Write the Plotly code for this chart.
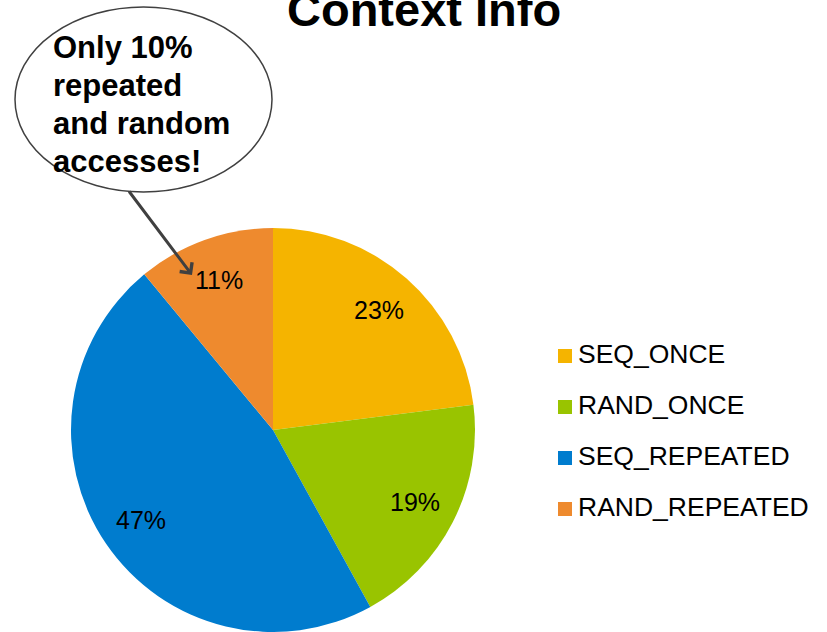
import math
import plotly.graph_objects as go

categories = ["SEQ_ONCE", "RAND_ONCE", "SEQ_REPEATED", "RAND_REPEATED"]
values = [23, 19, 47, 11]
colors = ["#F5B400", "#99C400", "#007CCE", "#EE8A2E"]
title_text = "Context Info"
callout_lines = ["Only 10%", "repeated", "and random", "accesses!"]

W, H = 827, 632
FONT = "Liberation Sans, Arial, sans-serif"

fig = go.Figure()

# pie (center ~ (273,430) px, radius ~202 px)
cx, cy, r = 273, 430, 202
fig.add_trace(go.Pie(
    labels=categories, values=values, sort=False, direction="clockwise", rotation=0,
    marker=dict(colors=colors, line=dict(width=0)),
    textinfo="none",
    domain=dict(x=[(cx - r) / W, (cx + r) / W], y=[(H - cy - r) / H, (H - cy + r) / H]),
    showlegend=False, hoverinfo="label+percent",
))

# percentage labels placed at ~0.79 of radius at each slice's mid angle
total = sum(values)
cum = 0.0
for v in values:
    mid = (cum + v / 2) / total * 2 * math.pi
    cum += v
    rl = 0.79 * r
    fig.add_annotation(text=f"{round(100 * v / total)}%", xref="x", yref="y",
                       x=cx + rl * math.sin(mid), y=cy - rl * math.cos(mid),
                       showarrow=False, xanchor="center", yanchor="middle",
                       font=dict(family=FONT, size=25, color="black"))

# legend drawn on a pixel-scaled hidden axis
leg_x, leg_tx, leg_y0, leg_dy = 565, 578, 356, 51
leg_y = [leg_y0 + i * leg_dy for i in range(len(categories))]
fig.add_trace(go.Scatter(
    x=[leg_x] * len(categories), y=leg_y, mode="markers",
    marker=dict(symbol="square", size=14, color=colors, line=dict(width=0)),
    showlegend=False, hoverinfo="skip", cliponaxis=False,
))
fig.add_trace(go.Scatter(
    x=[leg_tx] * len(categories), y=leg_y, mode="text", text=categories,
    textposition="middle right",
    textfont=dict(family=FONT, size=26.5, color="black"),
    showlegend=False, hoverinfo="skip", cliponaxis=False,
))

fig.update_layout(
    width=W, height=H, margin=dict(l=0, r=0, t=0, b=0),
    paper_bgcolor="white", plot_bgcolor="rgba(0,0,0,0)",
    xaxis=dict(range=[0, W], visible=False, fixedrange=True),
    yaxis=dict(range=[H, 0], visible=False, fixedrange=True),
    showlegend=False,
)

# callout ellipse
fig.add_shape(type="circle", xref="x", yref="y", x0=15, x1=272, y0=7, y1=192,
              line=dict(color="#404040", width=1.5), fillcolor="white", layer="below")

# title
fig.add_annotation(text="<b>" + title_text + "</b>", xref="x", yref="y", x=424, y=9,
                   xanchor="center", yanchor="middle", showarrow=False,
                   font=dict(family=FONT, size=47, color="black"))

# callout text, one line per annotation for tight line spacing
for i, line in enumerate(callout_lines):
    fig.add_annotation(text="<b>" + line + "</b>", xref="x", yref="y", x=51,
                       y=47 + i * 38.3, xanchor="left", yanchor="middle",
                       align="left", showarrow=False,
                       font=dict(family=FONT, size=31, color="black"))

# callout pointer
fig.add_annotation(text="", xref="x", yref="y", x=192, y=275, axref="x", ayref="y",
                   ax=128, ay=190, showarrow=True, arrowhead=4, arrowsize=1,
                   arrowwidth=3, arrowcolor="#404040")

fig.write_html("out.html")
